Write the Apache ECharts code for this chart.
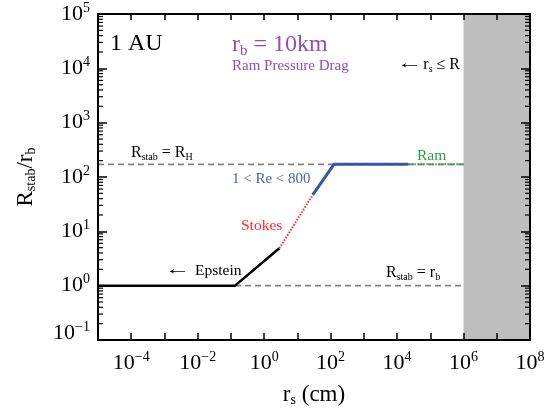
<!DOCTYPE html>
<html><head><meta charset="utf-8">
<script src="https://cdn.jsdelivr.net/npm/echarts@6/dist/echarts.min.js"></script>
<style>html,body{margin:0;padding:0;background:#fff}#c{width:548px;height:408px}</style>
</head><body><div id="c"></div>
<script>
const FONT = "'Liberation Serif','Times New Roman',serif";
// axis ranges
const xRange = [1e-5, 1e8];
const yRange = [1e-1, 1e5];
// curves (r_s in cm, R_stab/r_b)
const epsteinX = [1e-5, 0.133, 2.86];
const epsteinY = [1, 1, 4.87];
const stokesX = [2.86, 28.9];
const stokesY = [4.87, 46.7];
const reX = [28.9, 126, 2.18e4];
const reY = [46.7, 171, 171];
const ramX = [2.18e4, 1e6];
const ramY = [171, 171];
// reference lines
const hillX = [1e-5, 1e6];
const hillY = [171, 171];
const rbX = [0.133, 1e6];
const rbY = [1, 1];
// shaded region r_s > R
const shadeX = [1e6, 1e8];

function pairs(xs, ys) { return xs.map((x, i) => [x, ys[i]]); }
function expOf(v) { return Math.round(Math.log10(v)); }
function expText(e) { return e < 0 ? '\u2212' + (-e) : String(e); }
function sup(v) { return '{b|10}{s|' + expText(expOf(v)) + '}'; }
function supY(v) {
  const e = expOf(v);
  return e === expOf(yRange[0]) ? '{bl|10}{sl|' + expText(e) + '}' : sup(v);
}
const minorY = [];
for (let e = -1; e < 5; e++) for (let m = 2; m <= 9; m++) minorY.push(m * Math.pow(10, e));

const tickRich = {
  b: { fontFamily: FONT, fontSize: 22, color: '#000' },
  s: { fontFamily: FONT, fontSize: 14, color: '#000', padding: [0, 0, 12, 0] },
  bl: { fontFamily: FONT, fontSize: 22, color: '#000', padding: [0, 0, 14, 0] },
  sl: { fontFamily: FONT, fontSize: 14, color: '#000', padding: [0, 0, 26, 0] }
};
const nameRich = {
  b: { fontFamily: FONT, fontSize: 23, color: '#000' },
  sb: { fontFamily: FONT, fontSize: 14, color: '#000', padding: [10, 0, 0, 0] }
};
const axisLine = { show: true, lineStyle: { color: '#000', width: 2 } };

const chart = echarts.init(document.getElementById('c'), null, { renderer: 'canvas' });

function txt(x, y, text, size, color, align, rich, sx) {
  return {
    type: 'text', x: x, y: y, z: 50, silent: true, scaleX: sx || 1,
    style: {
      text: text, x: 0, y: 0, fill: color || '#000',
      fontFamily: FONT, fontSize: size,
      align: align || 'left', verticalAlign: 'middle', rich: rich || undefined
    }
  };
}
function subRich(size, color) {
  return {
    n: { fontFamily: FONT, fontSize: size, fill: color, color: color },
    u: { fontFamily: FONT, fontSize: Math.round(size * 0.62), fill: color, color: color, padding: [Math.round(size * 0.5), 0, 0, 0] }
  };
}

const purple = '#9152ab';
const option = {
  animation: false,
  backgroundColor: '#fff',
  grid: { left: 98, right: 18, top: 14, bottom: 68, containLabel: false, outerBoundsMode: 'none' },
  xAxis: [{
    type: 'log', logBase: 10, min: xRange[0], max: xRange[1], interval: 1, position: 'bottom', z: 10,
    axisLine: axisLine,
    axisTick: { show: true, inside: true, length: 7, lineStyle: { color: '#000', width: 1.5 } },
    minorTick: { show: false }, splitLine: { show: false },
    axisLabel: { margin: 10, color: '#000', formatter: v => (expOf(v) % 2 === 0 ? sup(v) : ''), rich: tickRich },
    name: '{b|r}{sb|s}{b| (cm)}', nameLocation: 'middle', nameGap: 43,
    nameTextStyle: { rich: nameRich }
  }, {
    type: 'log', logBase: 10, min: xRange[0], max: xRange[1], interval: 1, position: 'top', z: 10,
    axisLine: axisLine,
    axisTick: { show: true, inside: true, length: 6, lineStyle: { color: '#000', width: 1.5 } },
    axisLabel: { show: false }, splitLine: { show: false }
  }],
  yAxis: [{
    type: 'log', logBase: 10, min: yRange[0], max: yRange[1], interval: 1, position: 'left', z: 10,
    axisLine: axisLine,
    axisTick: { show: true, inside: true, length: 9, lineStyle: { color: '#000', width: 1.5 } },
    splitLine: { show: false },
    axisLabel: { margin: 8, color: '#000', formatter: v => supY(v), rich: tickRich },
    name: '{b|R}{sb|stab}{b|/r}{sb|b}', nameLocation: 'middle', nameGap: 60, nameRotate: 90,
    nameTextStyle: { rich: nameRich }
  }, {
    type: 'log', logBase: 10, min: yRange[0], max: yRange[1], interval: 1, position: 'right', z: 10,
    axisLine: axisLine,
    axisTick: { show: true, inside: true, length: 9, lineStyle: { color: '#000', width: 1.5 } },
    axisLabel: { show: false }, splitLine: { show: false }
  }],
  series: [
    {
      type: 'line', name: 'R_H', data: pairs(hillX, hillY), symbol: 'none', z: 2,
      lineStyle: { color: '#808080', width: 1.6, type: [6, 4] },
      markArea: { silent: true, itemStyle: { color: '#bebebe' }, data: [[{ xAxis: shadeX[0] }, { xAxis: shadeX[1] }]] }
    },
    {
      type: 'line', name: 'r_b', data: pairs(rbX, rbY), symbol: 'none', z: 2,
      lineStyle: { color: '#808080', width: 1.6, type: [6, 4] }
    },
    {
      type: 'line', name: 'Epstein', data: pairs(epsteinX, epsteinY), symbol: 'none', z: 3,
      lineStyle: { color: '#000', width: 2.5 }
    },
    {
      type: 'line', name: 'Stokes', data: pairs(stokesX, stokesY), symbol: 'none', z: 3,
      lineStyle: { color: '#ff2a2a', width: 2, type: [1.5, 1.5] }
    },
    {
      type: 'line', name: 'Re', data: pairs(reX, reY), symbol: 'none', z: 3,
      lineStyle: { color: '#3a55a8', width: 3 }
    },
    {
      type: 'line', name: 'Ram', data: pairs(ramX, ramY), symbol: 'none', z: 3,
      lineStyle: { color: '#2e9e3e', width: 2, type: [1.5, 1.5] }
    },
    {
      type: 'custom', name: 'minor', silent: true, z: 20, clip: false,
      data: minorY.map(v => [xRange[0], v]),
      renderItem: function (params, api) {
        const y = api.coord([xRange[0], api.value(1)])[1];
        const cs = params.coordSys;
        return {
          type: 'group', children: [
            { type: 'line', shape: { x1: cs.x, y1: y, x2: cs.x + 5, y2: y }, style: { stroke: '#000', lineWidth: 1.2 } },
            { type: 'line', shape: { x1: cs.x + cs.width - 5, y1: y, x2: cs.x + cs.width, y2: y }, style: { stroke: '#000', lineWidth: 1.2 } }
          ]
        };
      }
    }
  ],
  graphic: [
    txt(110, 44, '1 AU', 24, '#000'),
    txt(232, 45, '{n|r}{u|b}{n| = 10km}', 24, purple, 'left', subRich(24, purple)),
    txt(232, 66, 'Ram Pressure Drag', 15, purple),
    txt(397, 64, '\u2190', 16, '#000', 'left', null, 1.6),
    txt(460, 65, '{n|r}{u|s}{n| \u2264 R}', 16, '#000', 'right', subRich(16, '#000')),
    txt(131, 153, '{n|R}{u|stab}{n| = R}{u|H}', 16, '#000', 'left', subRich(16, '#000')),
    txt(232, 179, '1 < Re < 800', 15, '#4a62b3'),
    txt(241, 226, 'Stokes', 15.5, '#ff2a2a'),
    txt(417, 155.5, 'Ram', 15.5, '#2e9e3e'),
    txt(165, 270, '\u2190', 16, '#000', 'left', null, 1.6),
    txt(195, 271, 'Epstein', 15.5, '#000'),
    txt(386, 273, '{n|R}{u|stab}{n| = r}{u|b}', 16, '#000', 'left', subRich(16, '#000'))
  ]
};
chart.setOption(option);
</script>
</body></html>
